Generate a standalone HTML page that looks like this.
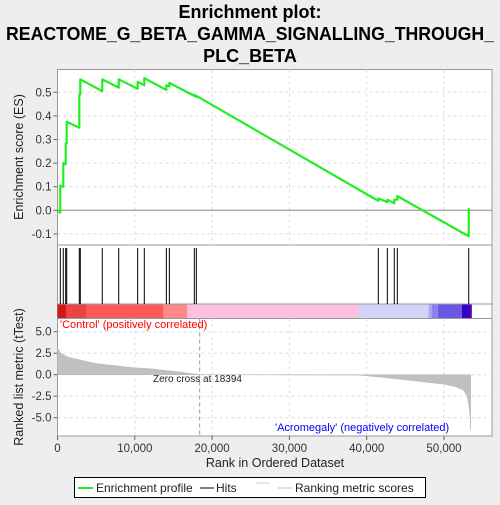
<!DOCTYPE html>
<html><head><meta charset="utf-8"><style>
body{margin:0;background:#eeeeee;}
svg{font-family:"Liberation Sans",sans-serif;}
</style></head><body>
<svg width="500" height="500" viewBox="0 0 500 500">
<text x="250" y="18" text-anchor="middle" font-size="18" font-weight="bold">Enrichment plot:</text>
<text x="250" y="40" text-anchor="middle" font-size="18" font-weight="bold" textLength="488" lengthAdjust="spacingAndGlyphs">REACTOME_G_BETA_GAMMA_SIGNALLING_THROUGH_</text>
<text x="250" y="62" text-anchor="middle" font-size="18" font-weight="bold">PLC_BETA</text>
<g id="g"></g>
</svg>
<script>
const xTicks=[0,10000,20000,30000,40000,50000];
const xTickLabels=["0","10,000","20,000","30,000","40,000","50,000"];
const esTicks=[-0.1,0.0,0.1,0.2,0.3,0.4,0.5];
const metricTicks=[5.0,2.5,0.0,-2.5,-5.0];
const hitRanks=[362,750,1060,1190,2820,2950,5790,7920,10370,11230,14080,14470,17700,17960,41500,42670,43570,43960,53200];
const esBefore=[-0.01,0.10,0.195,0.285,0.35,0.49,0.505,0.52,0.515,0.53,0.51,0.525,0.485,0.48,0.04,0.035,0.03,0.045,-0.11];
const esAfter=[0.105,0.20,0.285,0.375,0.49,0.555,0.555,0.555,0.545,0.56,0.53,0.54,0.49,0.485,0.05,0.045,0.045,0.06,0.005];
const endRank=53300;
const metricRanks=[0,300,800,1500,3000,5000,8000,10000,12000,14000,16000,18394,39000,42000,45000,48000,50000,51500,52500,53000,53200,53350,53450];
const metricVals=[3.2,2.6,2.3,2.0,1.7,1.3,1.0,0.8,0.7,0.5,0.3,0,-0.05,-0.3,-0.6,-0.9,-1.1,-1.4,-1.8,-2.5,-3.5,-4.5,-6.5];
const colorStops=[0,1100,3800,13700,16800,39000,48000,48400,49200,52300,53300,53600];
const colorFill=["#d01818","#e84444","#ff5a5a","#ff8a8a","#ffc0e0","#d4d4fa","#a8a8f4","#8a80ee","#6a58e2","#3300cc","#5a00aa"];
const NS="http://www.w3.org/2000/svg";
const g=document.getElementById('g');
const L=57.5,R=492;
const X=r=>L+r*0.00773;
const YE=v=>210.3-v*236;
const YM=v=>374.7-v*8.6;
function el(t,a,p){const e=document.createElementNS(NS,t);for(const k in a)e.setAttribute(k,a[k]);(p||g).appendChild(e);return e;}
const es=el('rect',{x:L,y:69.5,width:R-L,height:175.5,fill:'#fff',stroke:'#999'});


const hp=el('rect',{x:L,y:245,width:R-L,height:59,fill:'#fff',stroke:'#999'});


const cp=el('rect',{x:L,y:304,width:R-L,height:14.5,fill:'#fff',stroke:'#999'});


const mp=el('rect',{x:L,y:318.5,width:R-L,height:117.5,fill:'#fff',stroke:'#999'});


xTicks.forEach((t,i)=>{
 if(i>0){
  const a=el('line',{x1:X(t),x2:X(t),y1:69.5,y2:245,stroke:'#ddd','stroke-dasharray':'3,3'});
  
  
  const b=el('line',{x1:X(t),x2:X(t),y1:318.5,y2:436,stroke:'#ddd','stroke-dasharray':'3,3'});
  
  
 }
 const tk=el('line',{x1:X(t),x2:X(t),y1:436,y2:440,stroke:'#666'});
 
 
 const tl=el('text',{x:X(t),y:452,'text-anchor':'middle','font-size':11.5,fill:'#333'});
 tl.textContent=xTickLabels[i];
 
 
});
esTicks.forEach(t=>{
 const a=el('line',{x1:L,x2:R,y1:YE(t),y2:YE(t),stroke:t===0?'#888':'#ddd','stroke-dasharray':t===0?'':'3,3'});
 
 
 const tk=el('line',{x1:L-4,x2:L,y1:YE(t),y2:YE(t),stroke:'#666'});
 
 
 const tl=el('text',{x:L-6,y:YE(t)+4,'text-anchor':'end','font-size':11.5,fill:'#333'});
 tl.textContent=t.toFixed(1);
 
 
});
metricTicks.forEach(t=>{
 const a=el('line',{x1:L,x2:R,y1:YM(t),y2:YM(t),stroke:'#ddd','stroke-dasharray':'3,3'});
 
 
 const tk=el('line',{x1:L-4,x2:L,y1:YM(t),y2:YM(t),stroke:'#666'});
 
 
 const tl=el('text',{x:L-6,y:YM(t)+4,'text-anchor':'end','font-size':11.5,fill:'#333'});
 tl.textContent=t.toFixed(1);
 
 
});
hitRanks.forEach(r=>{
 const h=el('line',{x1:X(r),x2:X(r),y1:248,y2:304,stroke:'#000','stroke-width':1});
 
 
});
for(let i=0;i<colorFill.length;i++){
 const c=el('rect',{x:X(colorStops[i]),y:304.5,width:X(colorStops[i+1])-X(colorStops[i]),height:13.5,fill:colorFill[i]});
 
 
}
let d='M'+X(metricRanks[0])+','+YM(0);
metricRanks.forEach((r,i)=>{d+=' L'+X(r)+','+YM(metricVals[i]);});
d+=' L'+X(metricRanks[metricRanks.length-1])+','+YM(0)+' Z';
const ma=el('path',{d:d,fill:'#c0c0c0',stroke:'#b8b8b8','stroke-width':0.5});


const zl=el('line',{x1:X(18394),x2:X(18394),y1:318.5,y2:436,stroke:'#999','stroke-dasharray':'4,3'});


let p='M'+X(0)+','+YE(0);
hitRanks.forEach((r,i)=>{p+=' L'+X(r)+','+YE(esBefore[i])+' L'+X(r)+','+YE(esAfter[i]);});
p+=' L'+X(endRank)+','+YE(0);
const line=el('path',{d:p,fill:'none',stroke:'#22ee22','stroke-width':2.2,'stroke-linejoin':'round'});


function txt(s,a,name){const t=el('text',a);t.textContent=s;return t;}
txt("'Control' (positively correlated)",{x:60,y:328,'font-size':11,fill:'#ff0000'},'positive-label');
txt("Zero cross at 18394",{x:153,y:382,'font-size':10,fill:'#222'},'zero-cross-label');
txt("'Acromegaly' (negatively correlated)",{x:275,y:431,'font-size':11,fill:'#0000ff'},'negative-label');
txt("Rank in Ordered Dataset",{x:275,y:467,'text-anchor':'middle','font-size':12.5,fill:'#222'},'x-axis-title');
txt("Enrichment score (ES)",{x:0,y:0,'text-anchor':'middle','font-size':12.5,fill:'#222',transform:'translate(23,157) rotate(-90)'},'es-y-axis-title');
txt("Ranked list metric (tTest)",{x:0,y:0,'text-anchor':'middle','font-size':12.5,fill:'#222',transform:'translate(23,377) rotate(-90)'},'metric-y-axis-title');
const lg=el('rect',{x:74.5,y:477.5,width:351,height:20,fill:'#fff',stroke:'#000'});


const l1=el('line',{x1:78,x2:93,y1:488,y2:488,stroke:'#22ee22','stroke-width':2});


txt("Enrichment profile",{x:96,y:492,'font-size':12,fill:'#222'},'legend-entry-enrichment');
const l2=el('line',{x1:200,x2:214,y1:488,y2:488,stroke:'#000','stroke-width':1});


txt("Hits",{x:216,y:492,'font-size':12,fill:'#222'},'legend-entry-hits');
const l3=el('line',{x1:256,x2:270,y1:483,y2:483,stroke:'#ccc','stroke-width':1});


const l4=el('line',{x1:278,x2:292,y1:488,y2:488,stroke:'#c0c0c0','stroke-width':1});


txt("Ranking metric scores",{x:295,y:492,'font-size':12,fill:'#222'},'legend-entry-metric');
</script>
</body></html>
